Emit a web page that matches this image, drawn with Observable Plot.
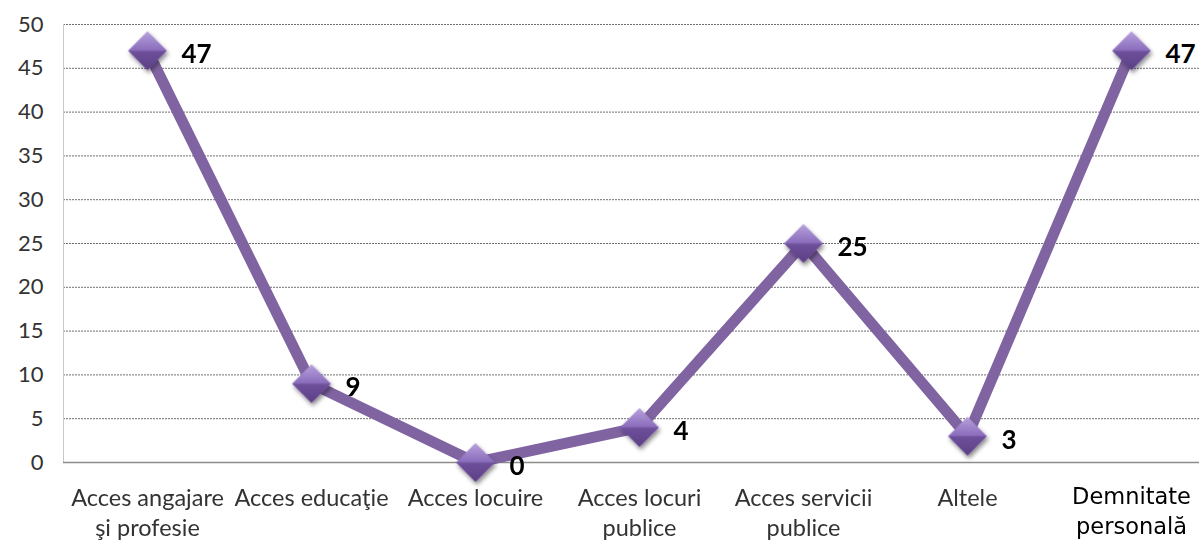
<!DOCTYPE html>
<html><head><meta charset="utf-8">
<script src="https://cdn.jsdelivr.net/npm/d3@7"></script>
<script src="https://cdn.jsdelivr.net/npm/@observablehq/plot@0.6"></script>
<style>body{margin:0;background:#fff;overflow:hidden}</style>
</head><body><div id="chart"></div>
<script>
const categories = ["Acces angajare\nşi profesie", "Acces educaţie", "Acces locuire", "Acces locuri\npublice", "Acces servicii\npublice", "Altele", "Demnitate\npersonală"];
const values = [47, 9, 0, 4, 25, 3, 47];
const yTicks = [0, 5, 10, 15, 20, 25, 30, 35, 40, 45, 50];

const data = categories.map((c, i) => ({category: c, value: values[i]}));
const lastCat = categories[categories.length - 1];

const plot = Plot.plot({
  width: 1199, height: 541,
  marginTop: 24, marginBottom: 79, marginLeft: 63, marginRight: 0,
  style: {background: "#fff", fontFamily: "Lato"},
  x: {type: "point", domain: categories, range: [63, 1214.5], padding: 0.5, axis: null},
  y: {domain: [0, 50], axis: null},
  marks: [
    Plot.gridY(yTicks.filter(d => d > 0), {stroke: "#6e6e6e", strokeOpacity: 1, strokeDasharray: "2,1"}),
    Plot.frame({anchor: "left", stroke: "#c8c8c8", strokeDasharray: "2,1"}),
    Plot.ruleY([0], {stroke: "#8c8c8c", strokeWidth: 1.5}),
    Plot.axisY(yTicks, {label: null, tickSize: 0, tickPadding: 20, fontSize: 22, fill: "#333"}),
    Plot.line(data, {x: "category", y: "value", stroke: "#8064a2", strokeWidth: 11}),
    Plot.dot(data, {x: "category", y: "value", symbol: "diamond2", r: 17.5, fill: "url(#dg)", stroke: "none"}),
    Plot.text(data, {x: "category", y: "value", text: d => String(d.value), dx: 34, dy: 4, textAnchor: "start", fontWeight: "bold", fontSize: 26, fill: "#000"}),
    Plot.text(data.filter(d => d.category !== lastCat), {x: "category", text: "category", frameAnchor: "bottom", lineAnchor: "top", dy: 22, fontSize: 23.5, lineHeight: 1.27, fill: "#333"}),
    Plot.text(data.filter(d => d.category === lastCat), {x: "category", text: "category", frameAnchor: "bottom", lineAnchor: "top", dy: 21, fontSize: 22.5, lineHeight: 1.3, fill: "#000", fontFamily: "DejaVu Sans"})
  ]
});

const svg = d3.select(plot);
const defs = svg.insert("defs", ":first-child");
const g = defs.append("linearGradient").attr("id", "dg").attr("x1", 0).attr("y1", 0).attr("x2", 0).attr("y2", 1);
g.append("stop").attr("offset", "0%").attr("stop-color", "#b8a2dc");
g.append("stop").attr("offset", "48%").attr("stop-color", "#8b6dbd");
g.append("stop").attr("offset", "52%").attr("stop-color", "#6e509a");
g.append("stop").attr("offset", "100%").attr("stop-color", "#5b3f86");
const f = defs.append("filter").attr("id", "sh").attr("x", "-50%").attr("y", "-50%").attr("width", "200%").attr("height", "200%");
f.append("feDropShadow").attr("dx", 1.5).attr("dy", 3).attr("stdDeviation", 2).attr("flood-opacity", 0.45);
svg.selectAll("path[fill='url(#dg)']").attr("filter", "url(#sh)");
svg.selectAll("g[fill='url(#dg)']").attr("filter", "url(#sh)");

document.getElementById("chart").appendChild(plot);
</script>
</body></html>
